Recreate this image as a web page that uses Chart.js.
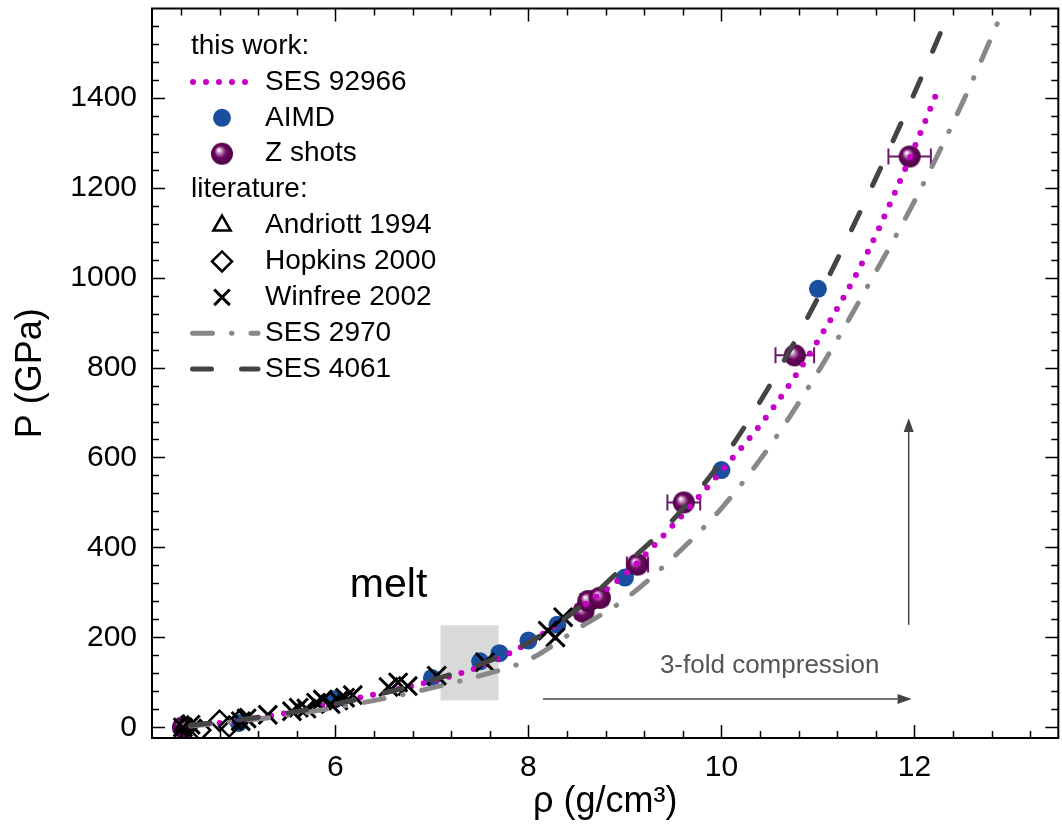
<!DOCTYPE html>
<html>
<head>
<meta charset="utf-8">
<script src="https://cdn.jsdelivr.net/npm/chart.js@4.4.1/dist/chart.umd.min.js"></script>
<style>
  html, body { margin: 0; padding: 0; background: #fff; }
</style>
</head>
<body>
<canvas id="chart" width="1062" height="834"></canvas>
<script>
const xTicks = [6, 8, 10, 12];
const yTicks = [0, 200, 400, 600, 800, 1000, 1200, 1400];

// this work: SES 92966 curve
const ses92966Rho = [4.4, 5.0, 5.5, 6.0, 6.5, 7.0, 7.5, 8.0, 8.5, 9.0, 9.5, 10.0, 10.5, 11.0, 11.5, 12.0, 12.23];
const ses92966P   = [0, 15, 32, 55, 78, 103, 135, 188, 260, 340, 450, 570, 700, 860, 1050, 1290, 1410];

// this work: AIMD
const aimdRho = [5.0, 6.0, 7.0, 7.5, 7.7, 8.0, 8.3, 9.0, 10.0, 11.0];
const aimdP   = [10, 63, 110, 147, 165, 193, 228, 333, 572, 975];

// this work: Z shots (with density error)
const zRho    = [4.42, 8.57, 8.62, 8.74, 9.13, 9.61, 10.76, 11.95];
const zP      = [0, 257, 281, 288, 362, 500, 827, 1269];
const zRhoErr = [0.05, 0.08, 0.08, 0.08, 0.11, 0.17, 0.2, 0.22];

// literature
const andriottRho = [4.43];
const andriottP   = [3];
const hopkinsRho  = [4.47, 4.6, 4.8, 4.9, 5.02];
const hopkinsP    = [2, -6, 15, 2, 18];
const winfreeRho  = [4.42, 4.5, 5.02, 5.08, 5.3, 5.55, 5.62, 5.7, 5.8, 5.87, 5.95, 6.03, 6.1, 6.18, 6.55, 6.65, 6.75, 7.05, 7.55, 8.2, 8.28, 8.36];
const winfreeP    = [0, 6, 14, 20, 28, 36, 44, 42, 55, 62, 52, 60, 66, 72, 90, 100, 92, 115, 145, 215, 200, 245];

const ses2970Rho = [4.5, 5.0, 5.5, 6.0, 6.5, 7.0, 7.5, 8.0, 8.5, 9.0, 9.5, 10.0, 10.5, 11.0, 11.5, 12.0, 12.5, 13.05];
const ses2970P   = [3, 14, 27, 44, 64, 88, 115, 150, 218, 285, 378, 487, 625, 790, 975, 1170, 1390, 1660];
const ses4061Rho = [4.5, 5.0, 5.5, 6.0, 6.5, 7.0, 7.5, 8.0, 8.5, 9.0, 9.5, 10.0, 10.5, 11.0, 11.5, 12.0, 12.52];
const ses4061P   = [5, 17, 32, 52, 76, 105, 140, 188, 262, 360, 462, 592, 760, 955, 1175, 1410, 1670];

// annotations (data coordinates)
const meltBox = { x0: 7.09, x1: 7.69, y0: 60, y1: 227 };
const compArrow = { x0: 8.15, x1: 11.97, y: 63 };
const presArrow = { x: 11.94, y0: 228, y1: 688 };

const FONT = '"Liberation Sans", Arial, sans-serif';
const pts = (xs, ys) => xs.map((v, i) => ({ x: v, y: ys[i] }));

function sphere(r) {
  const c = document.createElement('canvas');
  c.width = c.height = 2 * r + 2;
  const g = c.getContext('2d');
  const cx = r + 1, cy = r + 1;
  const grad = g.createRadialGradient(cx - r * 0.3, cy - r * 0.35, r * 0.05, cx, cy, r);
  grad.addColorStop(0, '#ffffff');
  grad.addColorStop(0.2, '#c58fbf');
  grad.addColorStop(0.5, '#6e0a63');
  grad.addColorStop(1, '#4b0043');
  g.fillStyle = grad;
  g.beginPath();
  g.arc(cx, cy, r, 0, Math.PI * 2);
  g.fill();
  return c;
}
const zImg = sphere(11);

const styles = {
  ses92966: { color: '#c800c8', width: 6, dash: [0, 13] },
  ses2970:  { color: '#888888', width: 5, dash: [20, 19, 0.5, 19] },
  ses4061:  { color: '#444444', width: 5, dash: [19, 30] }
};

function lineSet(label, xs, ys, st) {
  return {
    label, data: pts(xs, ys), showLine: true, pointRadius: 0,
    borderColor: st.color, borderWidth: st.width, borderDash: st.dash,
    borderCapStyle: 'round', cubicInterpolationMode: 'monotone'
  };
}

const datasets = [
  lineSet('SES 4061', ses4061Rho, ses4061P, styles.ses4061),
  lineSet('SES 2970', ses2970Rho, ses2970P, styles.ses2970),
  { label: 'Winfree 2002', data: pts(winfreeRho, winfreeP), pointStyle: 'crossRot', pointRadius: 13, borderColor: '#000', borderWidth: 3 },
  { label: 'Hopkins 2000', data: pts(hopkinsRho, hopkinsP), pointStyle: 'rectRot', pointRadius: 10, borderColor: '#000', backgroundColor: 'rgba(0,0,0,0)', borderWidth: 2.5 },
  { label: 'Andriott 1994', data: pts(andriottRho, andriottP), pointStyle: 'triangle', pointRadius: 10, borderColor: '#000', backgroundColor: 'rgba(0,0,0,0)', borderWidth: 2.5 },
  lineSet('SES 92966', ses92966Rho, ses92966P, styles.ses92966),
  { label: 'Z shots', data: pts(zRho, zP), pointStyle: zImg, pointRadius: 11 },
  { label: 'AIMD', data: pts(aimdRho, aimdP), pointStyle: 'circle', pointRadius: 9, backgroundColor: '#1a4f9f', borderWidth: 0 }
];

function arrow(ctx, x0, y0, x1, y1) {
  const a = Math.atan2(y1 - y0, x1 - x0), L = 14, W = 5;
  ctx.beginPath();
  ctx.moveTo(x0, y0);
  ctx.lineTo(x1 - L * Math.cos(a), y1 - L * Math.sin(a));
  ctx.stroke();
  ctx.beginPath();
  ctx.moveTo(x1, y1);
  ctx.lineTo(x1 - L * Math.cos(a) + W * Math.sin(a), y1 - L * Math.sin(a) - W * Math.cos(a));
  ctx.lineTo(x1 - L * Math.cos(a) - W * Math.sin(a), y1 - L * Math.sin(a) + W * Math.cos(a));
  ctx.closePath();
  ctx.fill();
}

const decor = {
  id: 'decor',
  beforeDatasetsDraw(chart) {
    const { ctx, scales: { x, y } } = chart;
    ctx.save();
    // melt region
    ctx.fillStyle = '#d9d9d9';
    const bx = x.getPixelForValue(meltBox.x0), by = y.getPixelForValue(meltBox.y1);
    ctx.fillRect(bx, by, x.getPixelForValue(meltBox.x1) - bx, y.getPixelForValue(meltBox.y0) - by);
    // Z shot error bars
    ctx.strokeStyle = '#6b1a6b';
    ctx.lineWidth = 2;
    zRho.forEach((r, i) => {
      const x0 = x.getPixelForValue(r - zRhoErr[i]), x1 = x.getPixelForValue(r + zRhoErr[i]);
      const py = y.getPixelForValue(zP[i]);
      ctx.beginPath();
      ctx.moveTo(x0, py); ctx.lineTo(x1, py);
      ctx.moveTo(x0, py - 8); ctx.lineTo(x0, py + 8);
      ctx.moveTo(x1, py - 8); ctx.lineTo(x1, py + 8);
      ctx.stroke();
    });
    ctx.restore();
  },
  afterDatasetsDraw(chart) {
    const { ctx, chartArea: a, scales: { x, y } } = chart;
    ctx.save();
    // arrows and text
    ctx.strokeStyle = '#444'; ctx.fillStyle = '#444'; ctx.lineWidth = 1.5;
    arrow(ctx, x.getPixelForValue(compArrow.x0), y.getPixelForValue(compArrow.y),
               x.getPixelForValue(compArrow.x1), y.getPixelForValue(compArrow.y));
    arrow(ctx, x.getPixelForValue(presArrow.x), y.getPixelForValue(presArrow.y0),
               x.getPixelForValue(presArrow.x), y.getPixelForValue(presArrow.y1));
    ctx.fillStyle = '#555';
    ctx.font = '26px ' + FONT;
    ctx.textAlign = 'center'; ctx.textBaseline = 'alphabetic';
    ctx.fillText('3-fold compression', x.getPixelForValue(10.5), y.getPixelForValue(122));
    ctx.fillStyle = '#000';
    ctx.font = '41px ' + FONT;
    ctx.textAlign = 'left';
    ctx.fillText('melt', x.getPixelForValue(6.15), y.getPixelForValue(290));

    // legend
    const tx = 265, sx0 = 190, sx1 = 258, mx = 222, top = 46, step = 35.9;
    ctx.font = '28px ' + FONT;
    ctx.textBaseline = 'middle';
    const lineSample = (st, yy) => {
      ctx.save();
      ctx.strokeStyle = st.color; ctx.lineWidth = st.width; ctx.lineCap = 'round';
      ctx.setLineDash(st.dash);
      ctx.beginPath(); ctx.moveTo(sx0 + st.width / 2, yy); ctx.lineTo(sx1, yy); ctx.stroke();
      ctx.restore();
    };
    const marker = (ds, yy) => {
      ctx.save();
      ctx.fillStyle = ds.backgroundColor || '#000';
      ctx.strokeStyle = ds.borderColor || '#000';
      ctx.lineWidth = ds.borderWidth || 0;
      Chart.helpers.drawPoint(ctx, {
        pointStyle: ds.pointStyle, radius: ds.label === 'Winfree 2002' ? 11 : ds.pointRadius,
        rotation: 0, borderWidth: ds.borderWidth || 0
      }, mx, yy);
      ctx.restore();
    };
    const byLabel = l => datasets.find(d => d.label === l);
    const rows = [
      ['head', 'this work:'], ['line', 'SES 92966', styles.ses92966], ['mark', 'AIMD'], ['mark', 'Z shots'],
      ['head', 'literature:'], ['mark', 'Andriott 1994'], ['mark', 'Hopkins 2000'], ['mark', 'Winfree 2002'],
      ['line', 'SES 2970', styles.ses2970], ['line', 'SES 4061', styles.ses4061]
    ];
    rows.forEach((r, i) => {
      const yy = top + i * step;
      ctx.fillStyle = '#000';
      if (r[0] === 'head') { ctx.fillText(r[1], 191, yy); return; }
      if (r[0] === 'line') lineSample(r[2], yy);
      else marker(byLabel(r[1]), yy);
      ctx.fillStyle = '#000';
      ctx.fillText(r[1], tx, yy);
    });

    // frame and inward ticks on all sides
    ctx.strokeStyle = '#000';
    ctx.lineWidth = 1.5;
    ctx.beginPath();
    for (let k = 11; k <= 33; k++) {
      const v = k * 0.4;
      const len = xTicks.some(t => Math.abs(t - v) < 1e-6) ? 13 : 7;
      const px = Math.round(x.getPixelForValue(v)) + 0.5;
      ctx.moveTo(px, a.bottom); ctx.lineTo(px, a.bottom - len);
      ctx.moveTo(px, a.top); ctx.lineTo(px, a.top + len);
    }
    for (let v = 0; v < 1600; v += 40) {
      const len = yTicks.includes(v) ? 13 : 7;
      const py = Math.round(y.getPixelForValue(v)) + 0.5;
      ctx.moveTo(a.left, py); ctx.lineTo(a.left + len, py);
      ctx.moveTo(a.right, py); ctx.lineTo(a.right - len, py);
    }
    ctx.stroke();
    ctx.lineWidth = 2;
    ctx.strokeRect(a.left, a.top, a.right - a.left, a.bottom - a.top);
    ctx.restore();
  }
};

new Chart(document.getElementById('chart'), {
  type: 'scatter',
  data: { datasets },
  options: {
    responsive: false,
    animation: false,
    layout: { autoPadding: false, padding: { top: 8.5, right: 3.7, left: 0, bottom: 0 } },
    plugins: { legend: { display: false }, tooltip: { enabled: false } },
    scales: {
      x: {
        type: 'linear', min: 4.10, max: 13.49,
        afterBuildTicks: s => { s.ticks = xTicks.map(v => ({ value: v })); },
        afterFit: s => { s.height = 96; s.paddingLeft = 0; s.paddingRight = 0; },
        grid: { display: false, drawTicks: false },
        border: { display: false },
        ticks: { font: { family: FONT, size: 30 }, color: '#000', padding: 12, maxRotation: 0, callback: v => String(v) },
        title: { display: true, text: 'ρ (g/cm³)', font: { family: FONT, size: 36 }, color: '#000', padding: { top: 0, bottom: 10 } }
      },
      y: {
        type: 'linear', min: -23.5, max: 1598,
        afterBuildTicks: s => { s.ticks = yTicks.map(v => ({ value: v })); },
        afterFit: s => { s.width = 152; s.paddingTop = 0; s.paddingBottom = 0; },
        grid: { display: false, drawTicks: false },
        border: { display: false },
        ticks: { font: { family: FONT, size: 30 }, color: '#000', padding: 15, callback: v => String(v) },
        title: { display: true, text: 'P (GPa)', font: { family: FONT, size: 36 }, color: '#000', padding: { top: 9, bottom: 0 } }
      }
    }
  },
  plugins: [decor]
});
</script>
</body>
</html>
